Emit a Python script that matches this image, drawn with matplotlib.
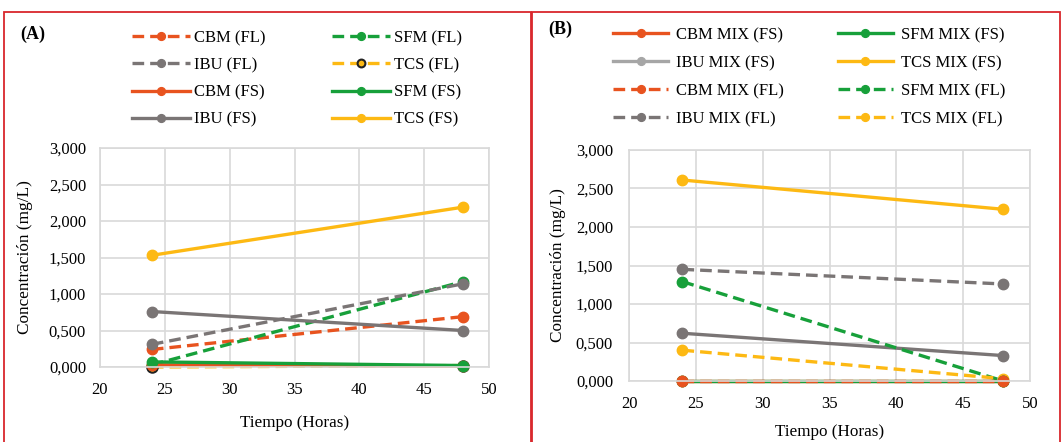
import numpy as np
import matplotlib
matplotlib.use("Agg")
import matplotlib.pyplot as plt
from matplotlib.patches import Rectangle
from matplotlib.lines import Line2D

plt.rcParams['font.family'] = ['Liberation Serif', 'DejaVu Serif']

hours = [24, 48]

# Panel A: individual compounds (legend order, row by row)
a_labels = ["CBM (FL)", "SFM (FL)", "IBU (FL)", "TCS (FL)",
            "CBM (FS)", "SFM (FS)", "IBU (FS)", "TCS (FS)"]
a_cbm_fl = [240, 690]
a_sfm_fl = [30, 1170]
a_ibu_fl = [310, 1140]
a_tcs_fl = [0, 20]
a_cbm_fs = [30, 10]
a_sfm_fs = [70, 20]
a_ibu_fs = [760, 500]
a_tcs_fs = [1530, 2190]

# Panel B: mixtures
b_labels = ["CBM MIX (FS)", "SFM MIX (FS)", "IBU MIX (FS)", "TCS MIX (FS)",
            "CBM MIX (FL)", "SFM MIX (FL)", "IBU MIX (FL)", "TCS MIX (FL)"]
b_cbm_fs = [0, 0]
b_sfm_fs = [0, 0]
b_ibu_fs = [620, 330]
b_tcs_fs = [2610, 2230]
b_cbm_fl = [0, 0]
b_sfm_fl = [1290, 0]
b_ibu_fl = [1450, 1260]
b_tcs_fl = [400, 30]

ORANGE = "#e8531f"
GREEN = "#17a03a"
GRAY = "#7a7575"
LGRAY = "#a6a6a6"
YELLOW = "#fdb913"

W, H = 1062, 442
fig = plt.figure(figsize=(W / 100, H / 100), dpi=100)


def px_axes(x0, y0, x1, y1):
    return fig.add_axes([x0 / W, 1 - y1 / H, (x1 - x0) / W, (y1 - y0) / H])


def style(ax, ypad, xpad, ylab_x, xlab_y):
    ax.set_xlim(20, 50)
    ax.set_ylim(0, 3000)
    ax.set_xticks(range(20, 51, 5))
    ax.set_yticks(range(0, 3001, 500))
    ax.set_yticklabels(["0,000", "0,500", "1,000", "1,500", "2,000", "2,500", "3,000"])
    ax.grid(True, color="#d9d9d9", lw=1.2)
    ax.set_axisbelow(True)
    for s in ax.spines.values():
        s.set_color("#d9d9d9")
        s.set_linewidth(1.2)
    ax.tick_params(length=0, labelsize=12)
    ax.tick_params(axis="y", pad=ypad)
    ax.tick_params(axis="x", pad=xpad)
    ax.set_ylabel("Concentración (mg/L)", fontsize=12.4)
    ax.set_xlabel("Tiempo (Horas)", fontsize=12.3)
    ax.yaxis.set_label_coords(ylab_x, 0.5)
    ax.xaxis.set_label_coords(0.5, xlab_y)
    ax.yaxis.label.set_va("center")
    ax.xaxis.label.set_va("center")


def rowmajor(items):
    # matplotlib fills legend columns first; reorder so rows read left to right
    return items[0::2] + items[1::2]


lw = 2.4
ms = 7.5
dash = (0, (3.5, 1.8))

# ---- Panel A ----
ax1 = px_axes(100, 148, 489, 367)
style(ax1, 10, 10.5, -0.193, -0.256)
h = {}
h["CBM (FL)"], = ax1.plot(hours, a_cbm_fl, ls=dash, color=ORANGE, lw=lw, marker="o", ms=ms)
h["SFM (FL)"], = ax1.plot(hours, a_sfm_fl, ls=dash, color=GREEN, lw=lw, marker="o", ms=ms)
h["IBU (FL)"], = ax1.plot(hours, a_ibu_fl, ls=dash, color=GRAY, lw=lw, marker="o", ms=ms)
h["TCS (FL)"], = ax1.plot(hours, a_tcs_fl, ls=dash, color=YELLOW, lw=lw, marker="o", ms=ms,
                          mfc=YELLOW, mec="#222222", mew=1.5)
h["CBM (FS)"], = ax1.plot(hours, a_cbm_fs, color=ORANGE, lw=lw, marker="o", ms=ms)
h["IBU (FS)"], = ax1.plot(hours, a_ibu_fs, color=GRAY, lw=lw, marker="o", ms=ms)
h["TCS (FS)"], = ax1.plot(hours, a_tcs_fs, color=YELLOW, lw=lw, marker="o", ms=ms)
h["SFM (FS)"], = ax1.plot(hours, a_sfm_fs, color=GREEN, lw=lw, marker="o", ms=ms)
for l in h.values():
    l.set_clip_on(False)

ax1.legend(rowmajor([h[k] for k in a_labels]), rowmajor(a_labels), ncol=2,
           loc="upper left", bbox_to_anchor=(132 / W, 1 - 30 / H),
           bbox_transform=fig.transFigure, borderpad=0, borderaxespad=0,
           frameon=False, fontsize=12, handlelength=3.5, handletextpad=0.2,
           columnspacing=4.0, labelspacing=0.67, markerscale=0.75)

# ---- Panel B ----
ax2 = px_axes(629, 150, 1030, 381)
style(ax2, 11.5, 11, -0.177, -0.221)
g = {}
g["IBU MIX (FS)"], = ax2.plot(hours, b_ibu_fs, color=GRAY, lw=lw, marker="o", ms=ms)
g["TCS MIX (FS)"], = ax2.plot(hours, b_tcs_fs, color=YELLOW, lw=lw, marker="o", ms=ms)
g["IBU MIX (FL)"], = ax2.plot(hours, b_ibu_fl, ls=dash, color=GRAY, lw=lw, marker="o", ms=ms)
g["SFM MIX (FL)"], = ax2.plot(hours, b_sfm_fl, ls=dash, color=GREEN, lw=lw, marker="o", ms=ms)
g["TCS MIX (FL)"], = ax2.plot(hours, b_tcs_fl, ls=dash, color=YELLOW, lw=lw, marker="o", ms=ms)
g["CBM MIX (FS)"], = ax2.plot(hours, b_cbm_fs, color=ORANGE, lw=lw, marker="o", ms=ms)
g["SFM MIX (FS)"], = ax2.plot(hours, b_sfm_fs, color=GREEN, lw=lw, marker="o", ms=ms)
g["CBM MIX (FL)"], = ax2.plot(hours, b_cbm_fl, ls=dash, color=ORANGE, lw=lw, marker="o", ms=ms)
for l in g.values():
    l.set_clip_on(False)

# legend swatch for IBU MIX (FS) is lighter in the original
ibu_proxy = Line2D([], [], color=LGRAY, lw=lw, marker="o", ms=ms)
handles_b = [ibu_proxy if k == "IBU MIX (FS)" else g[k] for k in b_labels]
ax2.legend(rowmajor(handles_b), rowmajor(b_labels), ncol=2,
           loc="upper left", bbox_to_anchor=(613 / W, 1 - 27 / H),
           bbox_transform=fig.transFigure, borderpad=0, borderaxespad=0,
           frameon=False, fontsize=12, handlelength=3.3, handletextpad=0.5,
           columnspacing=3.2, labelspacing=0.72, markerscale=0.75)

# panel tags
fig.text(20 / W, 1 - 34 / H, "(A)", fontsize=13, fontweight="bold", va="center")
fig.text(548 / W, 1 - 29 / H, "(B)", fontsize=13, fontweight="bold", va="center")

# red frames
for x0, x1 in [(4, 531), (532, 1060)]:
    fig.patches.append(Rectangle((x0 / W, -0.05), (x1 - x0) / W, 1.05 - 12 / H,
                                 transform=fig.transFigure, fill=False,
                                 edgecolor="#d9262c", lw=1.3))

fig.savefig("out.png", dpi=100)
